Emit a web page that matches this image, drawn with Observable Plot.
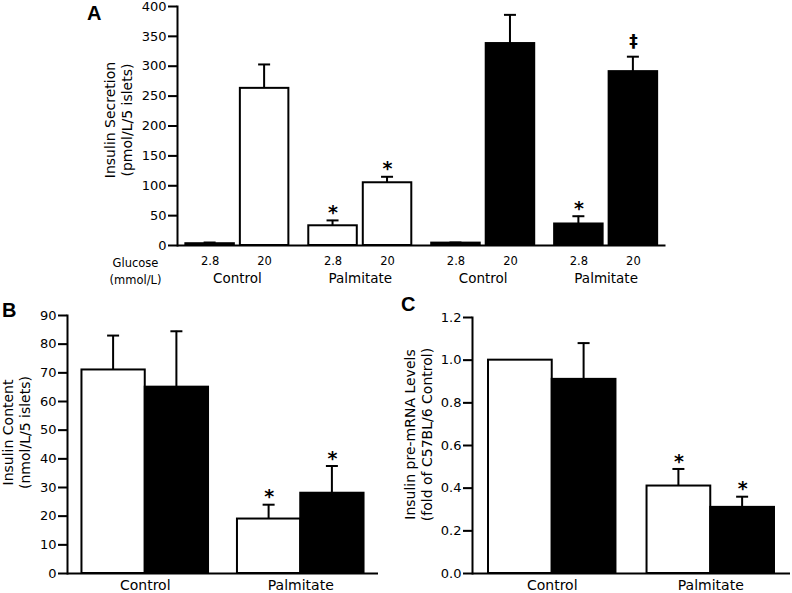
<!DOCTYPE html>
<html>
<head>
<meta charset="utf-8">
<script src="https://cdn.jsdelivr.net/npm/d3@7"></script>
<script src="https://cdn.jsdelivr.net/npm/@observablehq/plot@0.6"></script>
<style>
html, body { margin: 0; padding: 0; background: #fff; }
#chart { position: relative; width: 792px; height: 593px; overflow: hidden; background: #fff; }
#chart svg { position: absolute; overflow: visible; }
.letter { position: absolute; font-family: "Liberation Sans", Arial, sans-serif; font-weight: bold; font-size: 20px; line-height: 1; color: #000; }
</style>
</head>
<body>
<div id="chart"></div>
<script>
// ---------- data ----------
const strains = ["C57BL/6", "Mutant"];
const treatments = ["Control", "Palmitate"];
const glucoseLevels = ["2.8", "20"];

// Panel A: insulin secretion (pmol/L/5 islets); order strain -> treatment -> glucose
const secretionMean = [3, 263, 33, 105, 4, 338, 36, 291];
const secretionSem  = [2, 40, 9, 10, 1, 48, 13, 25];
const secretionSig  = ["", "", "*", "*", "", "", "*", "‡"];
const secretionTicks = [0, 50, 100, 150, 200, 250, 300, 350, 400];

// Panel B: insulin content (nmol/L/5 islets); order treatment -> strain
const contentMean = [71, 65, 19, 28];
const contentSem  = [12, 19.5, 5, 9.5];
const contentSig  = ["", "", "*", "*"];
const contentTicks = [0, 10, 20, 30, 40, 50, 60, 70, 80, 90];

// Panel C: insulin pre-mRNA (fold of C57BL/6 control); order treatment -> strain
const premrnaMean = [1.0, 0.91, 0.41, 0.31];
const premrnaSem  = [0, 0.17, 0.08, 0.05];
const premrnaSig  = ["", "", "*", "*"];
const premrnaTicks = [0, 0.2, 0.4, 0.6, 0.8, 1.0, 1.2];

// ---------- styles ----------
const strainFill = {"C57BL/6": "white", "Mutant": "black"};
const FONT = "'DejaVu Sans', Verdana, sans-serif";

// ---------- tables ----------
const rowsA = [];
{
  let i = 0;
  for (const s of strains) for (const t of treatments) glucoseLevels.forEach((g, k) => {
    rowsA.push({group: s + "|" + t, strain: s, treatment: t, label: g, sub: k,
      mean: secretionMean[i], sem: secretionSem[i], sig: secretionSig[i]});
    i++;
  });
}
function rowsBC(mean, sem, sig) {
  const rows = [];
  let i = 0;
  for (const t of treatments) strains.forEach((s, k) => {
    rows.push({group: t, strain: s, treatment: t, sub: k, mean: mean[i], sem: sem[i], sig: sig[i]});
    i++;
  });
  return rows;
}
const rowsB = rowsBC(contentMean, contentSem, contentSig);
const rowsC = rowsBC(premrnaMean, premrnaSem, premrnaSig);

const chart = document.getElementById("chart");

function barPanel(o) {
  const {rows, groups, width, height, mL, mR, mT, mB, padIn, padOut, gap,
         yDomain, yTicks, yFormat, tickFont, yLabel, yLabelDx, yLabelDy, extra} = o;
  const frameW = width - mL - mR;
  const bw = d3.scaleBand().domain(groups).range([mL, width - mR])
    .paddingInner(padIn).paddingOuter(padOut).bandwidth();
  const subW = (bw - gap) / 2;
  const leftOf = k => k * (subW + gap);
  const centerOf = k => leftOf(k) + subW / 2;
  const marks = [];
  for (const k of [0, 1]) for (const s of strains) {
    const sub = rows.filter(d => d.sub === k && d.strain === s);
    if (!sub.length) continue;
    marks.push(Plot.barY(sub, {x: "group", y1: 0, y2: "mean", fill: strainFill[s],
      stroke: "black", strokeWidth: 2, insetLeft: leftOf(k), insetRight: bw - leftOf(k) - subW}));
  }
  for (const k of [0, 1]) {
    const sub = rows.filter(d => d.sub === k && d.sem > 0);
    const c = centerOf(k);
    marks.push(Plot.barY(sub, {x: "group", y1: "mean", y2: d => d.mean + d.sem, fill: "black",
      insetLeft: c - 1, insetRight: bw - c - 1}));
    marks.push(Plot.tickY(sub, {x: "group", y: d => d.mean + d.sem, stroke: "black", strokeWidth: 2,
      insetLeft: c - 6, insetRight: bw - c - 6}));
    marks.push(Plot.text(rows.filter(d => d.sub === k && d.sig === "*"), {x: "group", y: d => d.mean + d.sem,
      text: "sig", dx: c - bw / 2, dy: -7.5, fontSize: 19, fontWeight: "bold", fontFamily: FONT}));
    marks.push(Plot.text(rows.filter(d => d.sub === k && d.sig === "‡"), {x: "group", y: d => d.mean + d.sem,
      text: "sig", dx: c - bw / 2, dy: -15, fontSize: 17, fontWeight: "bold", fontFamily: FONT}));
  }
  // baseline, y-axis ticks and y-axis line
  marks.push(Plot.ruleY([0], {strokeWidth: 2}));
  marks.push(Plot.ruleY(yTicks, {y: d => d, strokeWidth: 2, insetLeft: -9, insetRight: frameW}));
  marks.push(Plot.frame({anchor: "left", strokeWidth: 2}));
  marks.push(Plot.text([yLabel], {frameAnchor: "left", textAnchor: "middle", lineAnchor: "middle",
    rotate: -90, dx: yLabelDx, dy: yLabelDy, fontSize: 14, lineHeight: 1.2, text: d => d, fontFamily: FONT}));
  if (extra) marks.push(...extra({bw, centerOf}));
  return Plot.plot({
    width, height,
    marginLeft: mL, marginRight: mR, marginTop: mT, marginBottom: mB,
    style: {fontFamily: FONT, fontSize: tickFont + "px", color: "black", background: "white", overflow: "visible"},
    x: {domain: groups, paddingInner: padIn, paddingOuter: padOut, round: false, axis: null},
    y: {domain: yDomain, ticks: yTicks, tickFormat: yFormat, tickSize: 9, tickPadding: 2, label: null},
    marks
  });
}

function place(svg, left, top) {
  svg.style.left = left + "px";
  svg.style.top = top + "px";
  chart.appendChild(svg);
}
function letter(t, left, top) {
  const d = document.createElement("div");
  d.className = "letter";
  d.textContent = t;
  d.style.left = left + "px";
  d.style.top = top + "px";
  chart.appendChild(d);
}

// Panel A
const groupsA = [];
for (const s of strains) for (const t of treatments) groupsA.push(s + "|" + t);
const groupRowsA = groupsA.map(g => ({group: g, treatment: g.split("|")[1]}));
place(barPanel({
  rows: rowsA, groups: groupsA, width: 792, height: 290,
  mL: 177, mR: 126.5, mT: 6, mB: 45, padIn: 0.162, padOut: 0.068, gap: 6,
  yDomain: [0, 400], yTicks: secretionTicks, yFormat: d3.format("d"), tickFont: 13,
  yLabel: "Insulin Secretion\n(pmol/L/5 islets)", yLabelDx: -59, yLabelDy: -6,
  extra: ({bw, centerOf}) => [
    ...[0, 1].map(k => Plot.text(rowsA.filter(d => d.sub === k), {x: "group", y: 0, text: "label",
      dx: centerOf(k) - bw / 2, dy: 16, fontSize: 11.5, fontFamily: FONT})),
    Plot.text(groupRowsA, {x: "group", y: 0, text: "treatment", dy: 33, fontSize: 13.5, fontFamily: FONT}),
    Plot.text(["Glucose\n(mmol/L)"], {frameAnchor: "bottom-left", textAnchor: "middle", lineAnchor: "middle",
      text: d => d, dx: -42, dy: 24.5, fontSize: 11.5, lineHeight: 1.48, fontFamily: FONT})
  ]
}), 0, 0);

// Panel B
place(barPanel({
  rows: rowsB, groups: treatments, width: 400, height: 303,
  mL: 67, mR: 22, mT: 25, mB: 20, padIn: 0.186, padOut: 0.093, gap: 0,
  yDomain: [0, 90], yTicks: contentTicks, yFormat: d3.format("d"), tickFont: 13,
  yLabel: "Insulin Content\n(nmol/L/5 islets)", yLabelDx: -51, yLabelDy: -12,
  extra: () => [Plot.text(treatments, {x: d => d, y: 0, text: d => d, dy: 12.5, fontSize: 14, fontFamily: FONT})]
}), 0, 290);

// Panel C
place(barPanel({
  rows: rowsC, groups: treatments, width: 392, height: 303,
  mL: 72, mR: 2, mT: 27, mB: 20, padIn: 0.196, padOut: 0.101, gap: 0,
  yDomain: [0, 1.2], yTicks: premrnaTicks, yFormat: d3.format(".1f"), tickFont: 13,
  yLabel: "Insulin pre-mRNA Levels\n(fold of C57BL/6 Control)", yLabelDx: -54, yLabelDy: -11,
  extra: () => [Plot.text(treatments, {x: d => d, y: 0, text: d => d, dy: 12.5, fontSize: 14, fontFamily: FONT})]
}), 400, 290);

letter("A", 87, 3);
letter("B", 2, 300);
letter("C", 401, 294);
</script>
</body>
</html>
